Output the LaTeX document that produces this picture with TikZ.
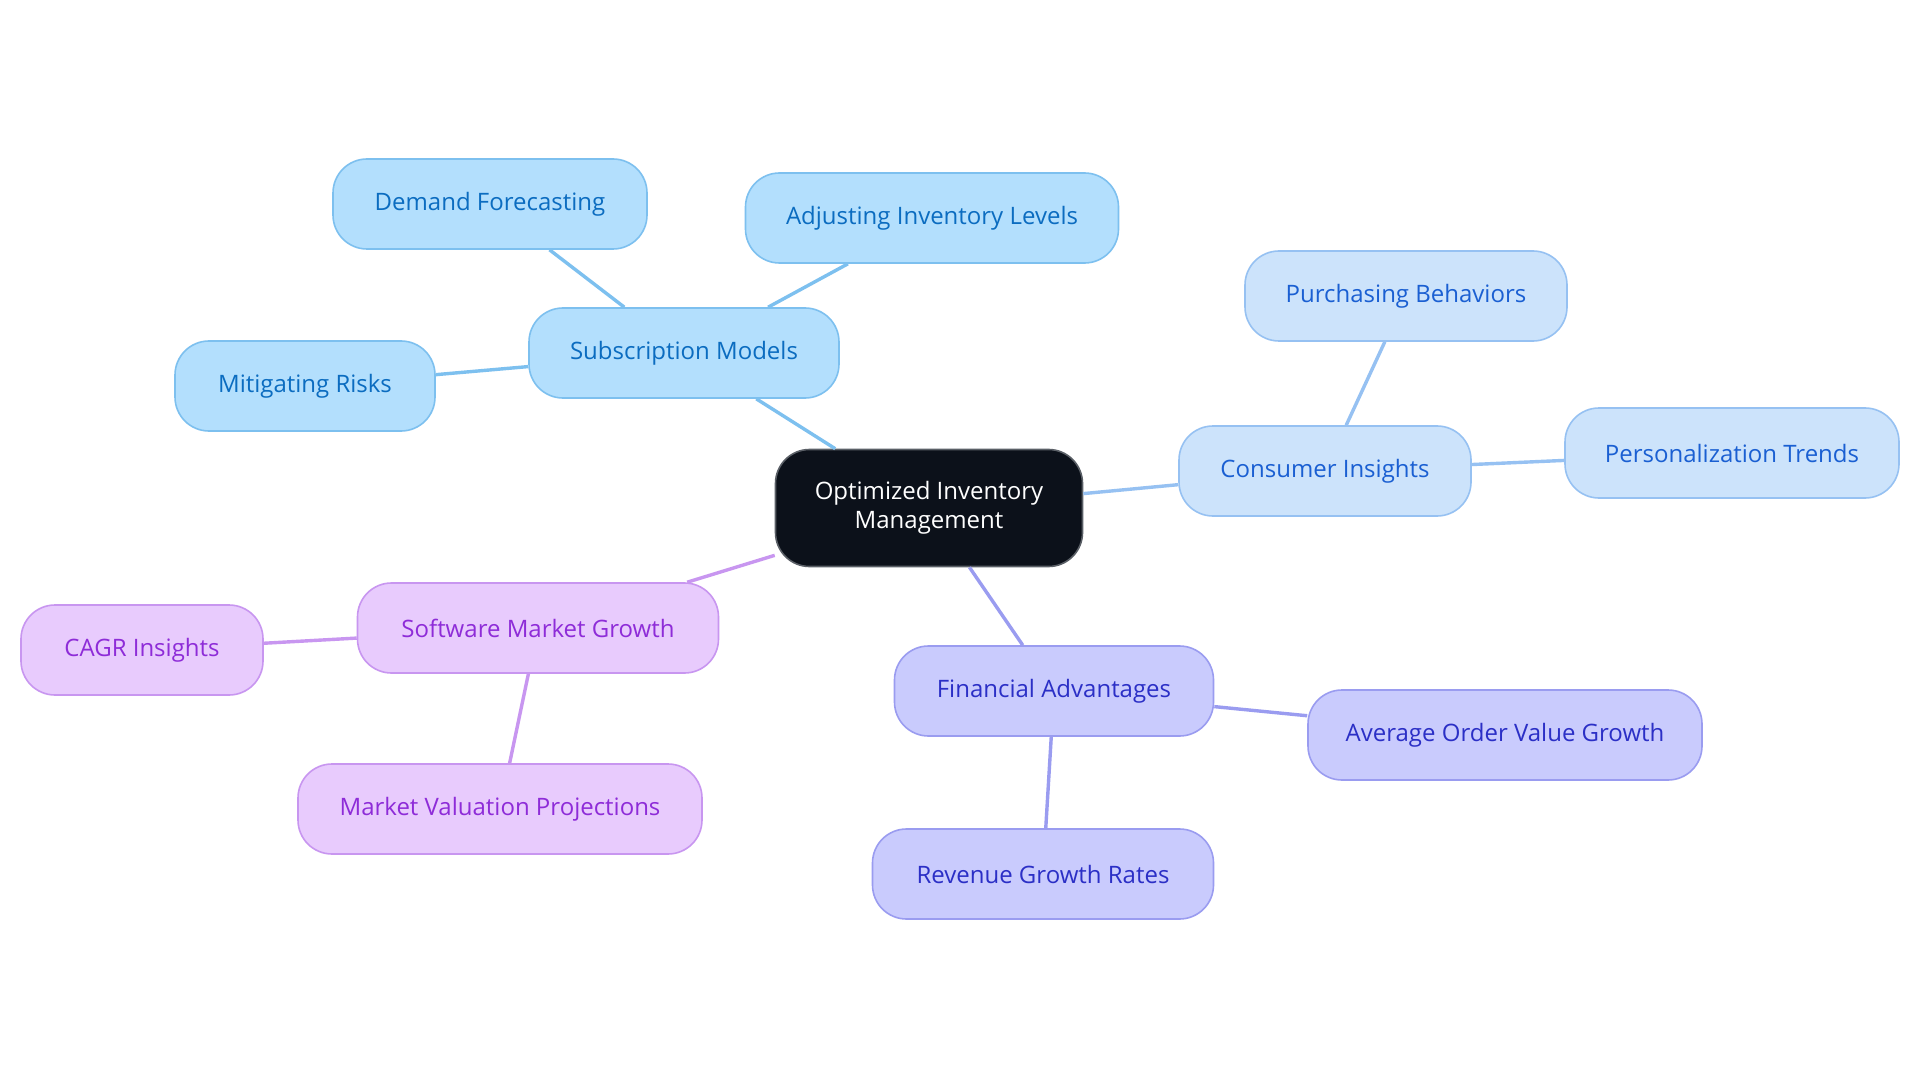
\documentclass[tikz,border=0pt]{standalone}
\usepackage{fontspec}
\setmainfont{Open Sans}
\usetikzlibrary{positioning}
\definecolor{skyfill}{HTML}{B3DFFD}
\definecolor{skydraw}{HTML}{7DC0EF}
\definecolor{skytext}{HTML}{0B6CC0}
\definecolor{palefill}{HTML}{CCE3FB}
\definecolor{paledraw}{HTML}{96C1F2}
\definecolor{paletext}{HTML}{1A5FD2}
\definecolor{purpfill}{HTML}{E8CBFD}
\definecolor{purpdraw}{HTML}{C896F0}
\definecolor{purptext}{HTML}{8E2CD8}
\definecolor{indfill}{HTML}{C9CBFD}
\definecolor{inddraw}{HTML}{9A9CF0}
\definecolor{indtext}{HTML}{2B2FC6}
\definecolor{rootfill}{HTML}{0C111A}
\definecolor{rootdraw}{HTML}{5A5F66}
\tikzset{
  x=1pt, y=-1pt,
  basebox/.style={rounded corners=34pt, line width=1.6pt, inner sep=0pt, minimum height=90pt, font=\fontsize{24}{29}\selectfont, align=center},
  rootbox/.style={basebox, fill=rootfill, draw=rootdraw, text=white, minimum height=117pt},
  skybox/.style={basebox, fill=skyfill, draw=skydraw, text=skytext},
  palebox/.style={basebox, fill=palefill, draw=paledraw, text=paletext},
  purpbox/.style={basebox, fill=purpfill, draw=purpdraw, text=purptext},
  indbox/.style={basebox, fill=indfill, draw=inddraw, text=indtext},
  skyline/.style={draw=skydraw, line width=3.4pt},
  paleline/.style={draw=paledraw, line width=3.4pt},
  purpline/.style={draw=purpdraw, line width=3.4pt},
  indline/.style={draw=inddraw, line width=3.4pt},
}
\begin{document}
\begin{tikzpicture}
\useasboundingbox[fill=white] (0,0) rectangle (1920,1083);
\node[rootbox, minimum width=307pt] (root) at (929,508) {Optimized Inventory\\Management};
\node[skybox, minimum width=310pt] (sub) at (684,353) {Subscription Models};
\node[skybox, minimum width=314pt] (dem) at (490,204) {Demand Forecasting};
\node[skybox, minimum width=373pt] (adj) at (932,218) {Adjusting Inventory Levels};
\node[skybox, minimum width=260pt] (mit) at (305,386) {Mitigating Risks};
\node[palebox, minimum width=292pt] (con) at (1325,471) {Consumer Insights};
\node[palebox, minimum width=322pt] (pur) at (1406,296) {Purchasing Behaviors};
\node[palebox, minimum width=334pt] (per) at (1732,453) {Personalization Trends};
\node[purpbox, minimum width=361pt] (soft) at (538,628) {Software Market Growth};
\node[purpbox, minimum width=242pt] (cagr) at (142,650) {CAGR Insights};
\node[purpbox, minimum width=404pt] (mkt) at (500,809) {Market Valuation Projections};
\node[indbox, minimum width=319pt] (fin) at (1054,691) {Financial Advantages};
\node[indbox, minimum width=394pt] (avg) at (1505,735) {Average Order Value Growth};
\node[indbox, minimum width=341pt] (rev) at (1043,874) {Revenue Growth Rates};
\draw[skyline] (root) -- (sub);
\draw[skyline] (sub) -- (dem);
\draw[skyline] (sub) -- (adj);
\draw[skyline] (sub) -- (mit);
\draw[paleline] (root) -- (con);
\draw[paleline] (con) -- (pur);
\draw[paleline] (con) -- (per);
\draw[purpline] (root) -- (soft);
\draw[purpline] (soft) -- (cagr);
\draw[purpline] (soft) -- (mkt);
\draw[indline] (root) -- (fin);
\draw[indline] (fin) -- (avg);
\draw[indline] (fin) -- (rev);
\end{tikzpicture}
\end{document}
